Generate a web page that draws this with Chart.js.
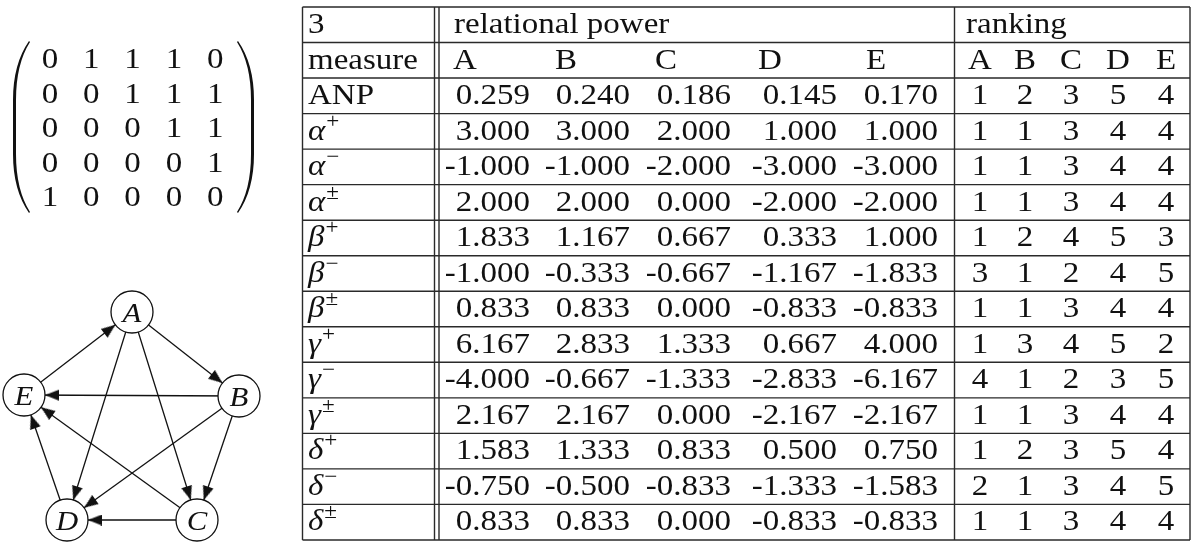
<!DOCTYPE html>
<html><head><meta charset="utf-8">
<script src="https://cdn.jsdelivr.net/npm/chart.js@4.4.1/dist/chart.umd.min.js"></script>
<style>html,body{margin:0;padding:0;background:#fff;}#wrap{position:relative;width:1200px;height:545px;}</style>
</head><body><div id="wrap"><canvas id="c" width="1200" height="545"></canvas></div>
<script>
// ---------------- data ----------------
const nodeNames = ['A', 'B', 'C', 'D', 'E'];
const adjacencyRows = [
  [0, 1, 1, 1, 0],
  [0, 0, 1, 1, 1],
  [0, 0, 0, 1, 1],
  [0, 0, 0, 0, 1],
  [1, 0, 0, 0, 0]
];
const tableTitle = '3';
const groupLabels = ['relational power', 'ranking'];
const measureHeader = 'measure';
const measureBase = ['ANP', 'α', 'α', 'α', 'β', 'β', 'β', 'γ', 'γ', 'γ', 'δ', 'δ', 'δ'];
const measureSup  = ['',    '+', '−', '±', '+', '−', '±', '+', '−', '±', '+', '−', '±'];
const powerA = [0.259, 3.000, -1.000, 2.000, 1.833, -1.000, 0.833, 6.167, -4.000, 2.167, 1.583, -0.750, 0.833];
const powerB = [0.240, 3.000, -1.000, 2.000, 1.167, -0.333, 0.833, 2.833, -0.667, 2.167, 1.333, -0.500, 0.833];
const powerC = [0.186, 2.000, -2.000, 0.000, 0.667, -0.667, 0.000, 1.333, -1.333, 0.000, 0.833, -0.833, 0.000];
const powerD = [0.145, 1.000, -3.000, -2.000, 0.333, -1.167, -0.833, 0.667, -2.833, -2.167, 0.500, -1.333, -0.833];
const powerE = [0.170, 1.000, -3.000, -2.000, 1.000, -1.833, -0.833, 4.000, -6.167, -2.167, 0.750, -1.583, -0.833];
const rankA = [1, 1, 1, 1, 1, 3, 1, 1, 4, 1, 1, 2, 1];
const rankB = [2, 1, 1, 1, 2, 1, 1, 3, 1, 1, 2, 1, 1];
const rankC = [3, 3, 3, 3, 4, 2, 3, 4, 2, 3, 3, 3, 3];
const rankD = [5, 4, 4, 4, 5, 4, 4, 5, 3, 4, 5, 4, 4];
const rankE = [4, 4, 4, 4, 3, 5, 4, 2, 5, 4, 4, 5, 4];

// ---------------- layout (not data) ----------------
const nodeX = [132, 239, 197, 67, 24];
const nodeY = [312, 396, 520, 520, 395];
const NODE_R = 21;
const MAT_X0 = 50, MAT_DX = 41.3, MAT_Y0 = 68, MAT_DY = 34.5;
const T_LEFT = 302.5, T_RIGHT = 1190, T_TOP = 7, ROW_H = 35.53, N_ROWS = 15;
const DBL1 = 434.5, DBL2 = 439, RANK_LINE = 954.5;
const TEXT_X = 308;
const VAL_RIGHT = [530, 630, 731, 837, 938];
const HEAD_LEFT = [453, 555, 655, 758, 866];
const RANK_C = [980, 1025, 1071, 1118, 1166];
const GROUP_X = [454, 966];
const SX = 1.1;
const FONT = '"Liberation Serif", "Times New Roman", serif';
const INK = '#111';

const powerCols = [powerA, powerB, powerC, powerD, powerE];
const rankCols = [rankA, rankB, rankC, rankD, rankE];

// edges from adjacency
const edges = [];
adjacencyRows.forEach((row, i) => row.forEach((v, j) => { if (v) edges.push([i, j]); }));

// arrowhead image (points up)
function makeArrow() {
  const c = document.createElement('canvas');
  c.width = 11; c.height = 14;
  const g = c.getContext('2d');
  g.fillStyle = INK;
  g.beginPath(); g.moveTo(5.5, 0); g.lineTo(11, 14); g.lineTo(0, 14); g.closePath(); g.fill();
  return c;
}
const arrowImg = makeArrow();
const arrowPts = [], arrowRot = [];
edges.forEach(([i, j]) => {
  const dx = nodeX[j] - nodeX[i], dy = nodeY[j] - nodeY[i];
  const L = Math.hypot(dx, dy), ux = dx / L, uy = dy / L;
  const tipX = nodeX[j] - ux * NODE_R, tipY = nodeY[j] - uy * NODE_R;
  arrowPts.push({ x: tipX - ux * 7, y: tipY - uy * 7 });
  arrowRot.push(Math.atan2(ux, -uy) * 180 / Math.PI);
});

const datasets = [];
datasets.push({
  label: 'nodes', order: 0,
  data: nodeNames.map((n, i) => ({ x: nodeX[i], y: nodeY[i] })),
  pointRadius: NODE_R, pointHoverRadius: NODE_R,
  pointBackgroundColor: '#fff', pointBorderColor: INK, pointBorderWidth: 1.3, showLine: false
});
datasets.push({
  label: 'arrows', order: 1, data: arrowPts, pointStyle: arrowImg, pointRotation: arrowRot,
  pointRadius: 7, showLine: false
});
edges.forEach(([i, j], k) => {
  datasets.push({
    label: 'edge' + k, order: 2, showLine: true, pointRadius: 0, borderColor: INK, borderWidth: 1.3,
    data: [{ x: nodeX[i], y: nodeY[i] }, { x: nodeX[j], y: nodeY[j] }]
  });
});

function drawText(ctx, s, x, y, o) {
  o = o || {};
  ctx.save();
  ctx.font = (o.italic ? 'italic ' : '') + (o.size || 30) + 'px ' + FONT;
  ctx.textAlign = o.align || 'left';
  ctx.textBaseline = 'alphabetic';
  ctx.fillStyle = INK;
  ctx.translate(x, y); ctx.scale(SX, 1);
  ctx.fillText(s, 0, 0);
  const w = ctx.measureText(s).width * SX;
  ctx.restore();
  return w;
}

const drawPlugin = {
  id: 'tableAndMatrix',
  afterDatasetsDraw(chart) {
    const ctx = chart.ctx;
    const X = v => chart.scales.x.getPixelForValue(v);
    const Y = v => chart.scales.y.getPixelForValue(v);
    // node labels
    nodeNames.forEach((n, i) => drawText(ctx, n, X(nodeX[i]), Y(nodeY[i]) + 9.5, { italic: true, size: 28, align: 'center' }));

    // matrix
    adjacencyRows.forEach((row, i) => row.forEach((v, j) => {
      drawText(ctx, String(v), X(MAT_X0 + j * MAT_DX), Y(MAT_Y0 + i * MAT_DY), { align: 'center' });
    }));
    ctx.save();
    ctx.fillStyle = INK;
    ctx.beginPath();
    ctx.moveTo(X(29), Y(41)); ctx.quadraticCurveTo(X(13), Y(64), X(13), Y(100));
    ctx.lineTo(X(13), Y(154)); ctx.quadraticCurveTo(X(13), Y(190), X(29), Y(213));
    ctx.lineTo(X(30), Y(212)); ctx.quadraticCurveTo(X(16), Y(190), X(16), Y(154));
    ctx.lineTo(X(16), Y(100)); ctx.quadraticCurveTo(X(16), Y(64), X(30), Y(42)); ctx.closePath();
    ctx.fill();
    ctx.beginPath();
    ctx.moveTo(X(238), Y(41)); ctx.quadraticCurveTo(X(254), Y(64), X(254), Y(100));
    ctx.lineTo(X(254), Y(154)); ctx.quadraticCurveTo(X(254), Y(190), X(238), Y(213));
    ctx.lineTo(X(237), Y(212)); ctx.quadraticCurveTo(X(251), Y(190), X(251), Y(154));
    ctx.lineTo(X(251), Y(100)); ctx.quadraticCurveTo(X(251), Y(64), X(237), Y(42)); ctx.closePath();
    ctx.fill();
    ctx.restore();

    // table rules
    const top = T_TOP, bottom = T_TOP + N_ROWS * ROW_H;
    ctx.save();
    ctx.strokeStyle = '#2a2a2a'; ctx.lineWidth = 1.4;
    ctx.beginPath();
    for (let i = 0; i <= N_ROWS; i++) {
      const y = Y(top + i * ROW_H);
      ctx.moveTo(X(T_LEFT), y); ctx.lineTo(X(T_RIGHT), y);
    }
    [T_LEFT, DBL1, DBL2, RANK_LINE, T_RIGHT].forEach(x => { ctx.moveTo(X(x), Y(top)); ctx.lineTo(X(x), Y(bottom)); });
    ctx.stroke();
    ctx.restore();

    const base = r => Y(top + r * ROW_H + 26);
    // header rows
    drawText(ctx, tableTitle, X(TEXT_X), base(0));
    drawText(ctx, groupLabels[0], X(GROUP_X[0]), base(0));
    drawText(ctx, groupLabels[1], X(GROUP_X[1]), base(0));
    drawText(ctx, measureHeader, X(TEXT_X), base(1));
    nodeNames.forEach((n, j) => {
      drawText(ctx, n, X(HEAD_LEFT[j]), base(1));
      drawText(ctx, n, X(RANK_C[j]), base(1), { align: 'center' });
    });
    // body
    measureBase.forEach((m, r) => {
      const row = r + 2, y = base(row);
      const greek = m !== 'ANP';
      const w = drawText(ctx, m, X(TEXT_X), y, { italic: greek });
      if (measureSup[r]) drawText(ctx, measureSup[r], X(TEXT_X) + w + 1, y - 12, { size: 21 });
      powerCols.forEach((col, j) => drawText(ctx, col[r].toFixed(3), X(VAL_RIGHT[j]), y, { align: 'right' }));
      rankCols.forEach((col, j) => drawText(ctx, String(col[r]), X(RANK_C[j]), y, { align: 'center' }));
    });
  }
};

new Chart(document.getElementById('c'), {
  type: 'scatter',
  data: { datasets },
  options: {
    responsive: false, animation: false, events: [],
    layout: { padding: 0, autoPadding: false },
    plugins: { legend: { display: false }, tooltip: { enabled: false } },
    scales: {
      x: { type: 'linear', min: 0, max: 1200, display: false },
      y: { type: 'linear', min: 0, max: 545, reverse: true, display: false }
    }
  },
  plugins: [drawPlugin]
});
</script></body></html>
